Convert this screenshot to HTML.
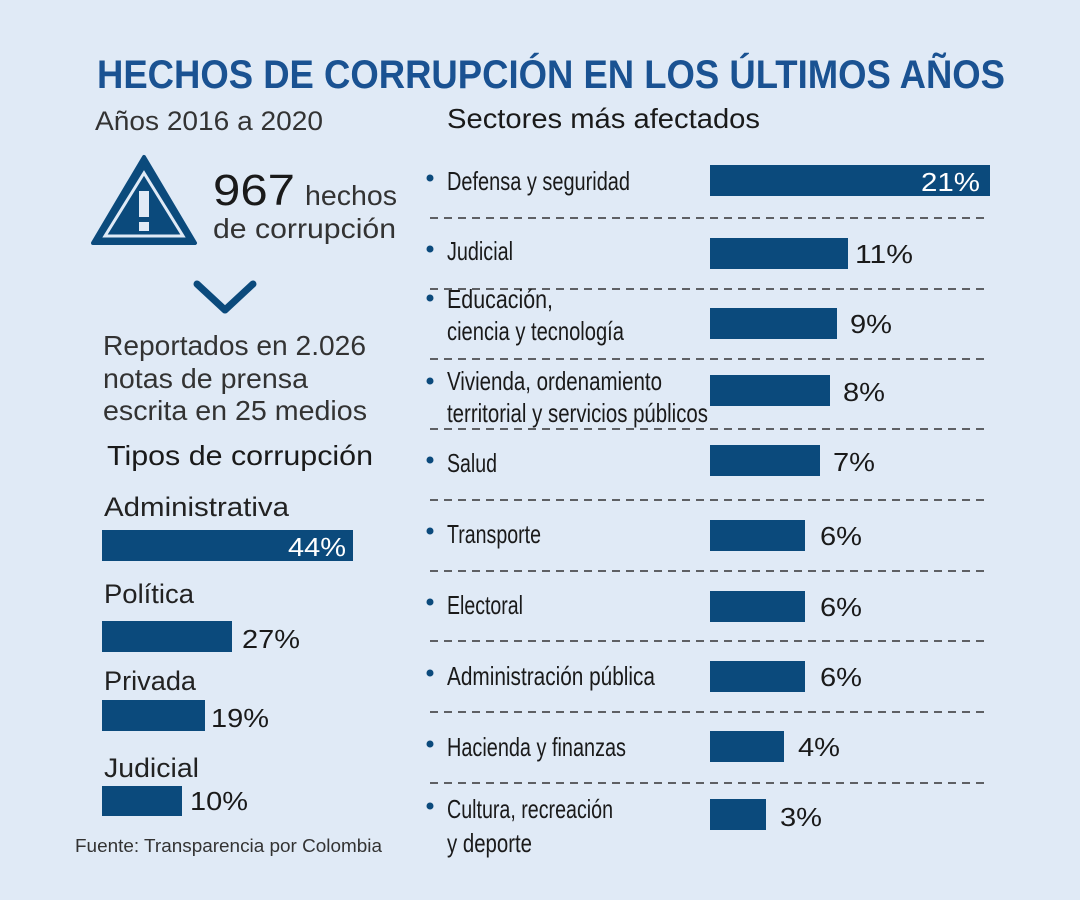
<!DOCTYPE html>
<html><head><meta charset="utf-8"><style>
html,body{margin:0;padding:0;background:#e0eaf6}
svg{display:block}
text{font-family:"Liberation Sans",sans-serif;fill:#1a1a1a}
.l{font-size:26px}
.p{font-size:26px}
</style></head><body>
<svg width="1080" height="900" viewBox="0 0 1080 900">
<rect width="1080" height="900" fill="#e0eaf6"/>
<text x="97" y="88" font-size="40" font-weight="bold" textLength="908" lengthAdjust="spacingAndGlyphs" style="fill:#1a5292">HECHOS DE CORRUPCIÓN EN LOS ÚLTIMOS AÑOS</text>
<text x="95" y="130" font-size="27" textLength="228" lengthAdjust="spacingAndGlyphs" style="fill:#333">Años 2016 a 2020</text>
<text x="447" y="128" font-size="28" textLength="313" lengthAdjust="spacingAndGlyphs">Sectores más afectados</text>
<!-- triangle -->
<path d="M144 157 L195 243 L93 243 Z" fill="#0b4a7c" stroke="#0b4a7c" stroke-width="4" stroke-linejoin="round"/>
<path d="M144 173 L183 236 L105 236 Z" fill="none" stroke="#e0eaf6" stroke-width="3"/>
<rect x="139" y="191" width="10" height="26" fill="#e0eaf6"/>
<rect x="139" y="222" width="10" height="9" fill="#e0eaf6"/>
<text x="213" y="205" font-size="44" textLength="82" lengthAdjust="spacingAndGlyphs">967</text>
<text x="305" y="205" font-size="28" textLength="92" lengthAdjust="spacingAndGlyphs" style="fill:#333">hechos</text>
<text x="213" y="238" font-size="28" textLength="183" lengthAdjust="spacingAndGlyphs" style="fill:#333">de corrupción</text>
<path d="M197 284 L225 310 L253 284" fill="none" stroke="#0b4a7c" stroke-width="7" stroke-linecap="round" stroke-linejoin="round"/>
<text x="103" y="355" font-size="28" textLength="263" lengthAdjust="spacingAndGlyphs" style="fill:#333">Reportados en 2.026</text>
<text x="103" y="388" font-size="28" textLength="205" lengthAdjust="spacingAndGlyphs" style="fill:#333">notas de prensa</text>
<text x="103" y="420" font-size="28" textLength="264" lengthAdjust="spacingAndGlyphs" style="fill:#333">escrita en 25 medios</text>
<text x="107" y="465" font-size="28" textLength="266" lengthAdjust="spacingAndGlyphs">Tipos de corrupción</text>
<text x="104" y="516" font-size="27" textLength="185" lengthAdjust="spacingAndGlyphs" style="fill:#222">Administrativa</text>
<rect x="102" y="530" width="251" height="31" fill="#0b4a7c"/>
<text x="288" y="556" class="p" textLength="58" lengthAdjust="spacingAndGlyphs" style="fill:#fff">44%</text>
<text x="104" y="603" font-size="27" textLength="90" lengthAdjust="spacingAndGlyphs" style="fill:#222">Política</text>
<rect x="102" y="621" width="130" height="31" fill="#0b4a7c"/>
<text x="242" y="648" class="p" textLength="58" lengthAdjust="spacingAndGlyphs">27%</text>
<text x="104" y="690" font-size="27" textLength="92" lengthAdjust="spacingAndGlyphs" style="fill:#222">Privada</text>
<rect x="102" y="700" width="103" height="31" fill="#0b4a7c"/>
<text x="211" y="727" class="p" textLength="58" lengthAdjust="spacingAndGlyphs">19%</text>
<text x="104" y="777" font-size="27" textLength="95" lengthAdjust="spacingAndGlyphs" style="fill:#222">Judicial</text>
<rect x="102" y="786" width="80" height="30" fill="#0b4a7c"/>
<text x="190" y="810" class="p" textLength="58" lengthAdjust="spacingAndGlyphs">10%</text>
<text x="75" y="852" font-size="18" textLength="307" lengthAdjust="spacingAndGlyphs" style="fill:#333">Fuente: Transparencia por Colombia</text>
<!-- dashed lines -->
<g stroke="#333" stroke-width="1.5" stroke-dasharray="8 6">
<line x1="430" y1="218" x2="990" y2="218"/><line x1="430" y1="289" x2="990" y2="289"/>
<line x1="430" y1="359" x2="990" y2="359"/><line x1="430" y1="429" x2="990" y2="429"/>
<line x1="430" y1="500" x2="990" y2="500"/><line x1="430" y1="571" x2="990" y2="571"/>
<line x1="430" y1="641" x2="990" y2="641"/><line x1="430" y1="712" x2="990" y2="712"/>
<line x1="430" y1="783" x2="990" y2="783"/>
</g>
<g fill="#0b4a7c">
<circle cx="430" cy="178" r="3.5"/><circle cx="430" cy="249" r="3.5"/><circle cx="430" cy="298" r="3.5"/>
<circle cx="430" cy="381" r="3.5"/><circle cx="430" cy="460" r="3.5"/><circle cx="430" cy="531" r="3.5"/>
<circle cx="430" cy="602" r="3.5"/><circle cx="430" cy="673" r="3.5"/><circle cx="430" cy="744" r="3.5"/>
<circle cx="430" cy="806" r="3.5"/>
<rect x="710" y="165" width="280" height="31"/><rect x="710" y="238" width="138" height="31"/>
<rect x="710" y="308" width="127" height="31"/><rect x="710" y="375" width="120" height="31"/>
<rect x="710" y="445" width="110" height="31"/><rect x="710" y="520" width="95" height="31"/>
<rect x="710" y="591" width="95" height="31"/><rect x="710" y="661" width="95" height="31"/>
<rect x="710" y="731" width="74" height="31"/><rect x="710" y="799" width="56" height="31"/>
</g>
<g class="l">
<text x="447" y="190" font-size="26" textLength="183" lengthAdjust="spacingAndGlyphs">Defensa y seguridad</text>
<text x="447" y="260" font-size="26" textLength="66" lengthAdjust="spacingAndGlyphs">Judicial</text>
<text x="447" y="308" font-size="26" textLength="106" lengthAdjust="spacingAndGlyphs">Educación,</text>
<text x="447" y="340" font-size="26" textLength="177" lengthAdjust="spacingAndGlyphs">ciencia y tecnología</text>
<text x="447" y="390" font-size="26" textLength="215" lengthAdjust="spacingAndGlyphs">Vivienda, ordenamiento</text>
<text x="447" y="422" font-size="26" textLength="261" lengthAdjust="spacingAndGlyphs">territorial y servicios públicos</text>
<text x="447" y="472" font-size="26" textLength="50" lengthAdjust="spacingAndGlyphs">Salud</text>
<text x="447" y="543" font-size="26" textLength="94" lengthAdjust="spacingAndGlyphs">Transporte</text>
<text x="447" y="614" font-size="26" textLength="76" lengthAdjust="spacingAndGlyphs">Electoral</text>
<text x="447" y="685" font-size="26" textLength="208" lengthAdjust="spacingAndGlyphs">Administración pública</text>
<text x="447" y="756" font-size="26" textLength="179" lengthAdjust="spacingAndGlyphs">Hacienda y finanzas</text>
<text x="447" y="818" font-size="26" textLength="166" lengthAdjust="spacingAndGlyphs">Cultura, recreación</text>
<text x="447" y="852" font-size="26" textLength="85" lengthAdjust="spacingAndGlyphs">y deporte</text>
</g>
<g>
<text x="921" y="191" class="p" textLength="59" lengthAdjust="spacingAndGlyphs" style="fill:#fff">21%</text>
<text x="855" y="263" class="p" textLength="58" lengthAdjust="spacingAndGlyphs">11%</text>
<text x="850" y="333" class="p" textLength="42" lengthAdjust="spacingAndGlyphs">9%</text>
<text x="843" y="401" class="p" textLength="42" lengthAdjust="spacingAndGlyphs">8%</text>
<text x="833" y="471" class="p" textLength="42" lengthAdjust="spacingAndGlyphs">7%</text>
<text x="820" y="545" class="p" textLength="42" lengthAdjust="spacingAndGlyphs">6%</text>
<text x="820" y="616" class="p" textLength="42" lengthAdjust="spacingAndGlyphs">6%</text>
<text x="820" y="686" class="p" textLength="42" lengthAdjust="spacingAndGlyphs">6%</text>
<text x="798" y="756" class="p" textLength="42" lengthAdjust="spacingAndGlyphs">4%</text>
<text x="780" y="826" class="p" textLength="42" lengthAdjust="spacingAndGlyphs">3%</text>
</g>
</svg>
</body></html>
